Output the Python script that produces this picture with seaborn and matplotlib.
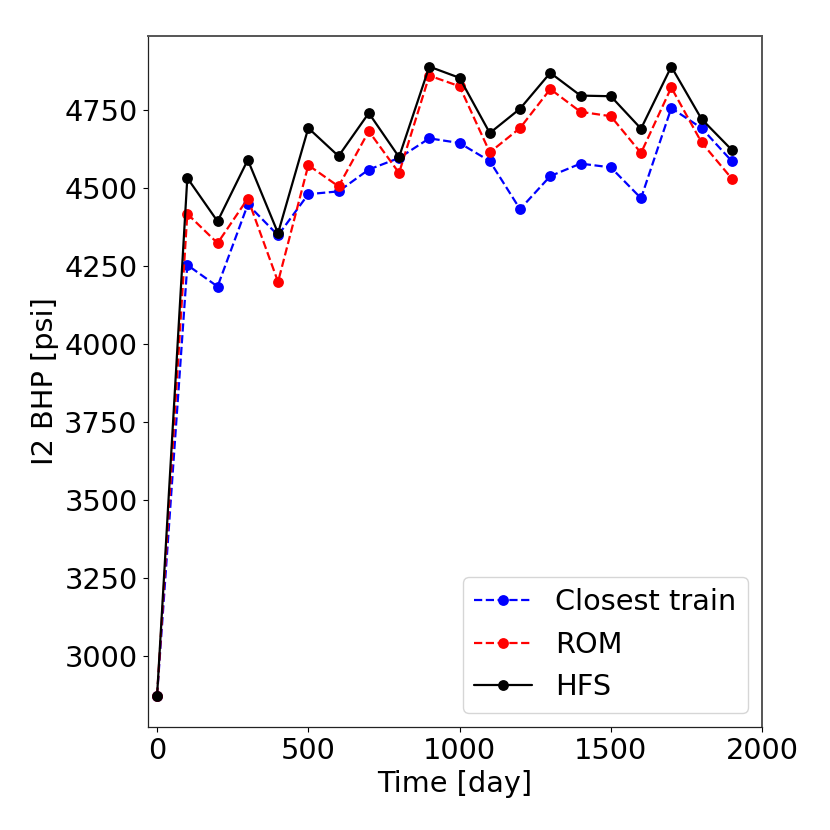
import matplotlib
matplotlib.use('Agg')
import matplotlib.pyplot as plt
import pandas as pd
import seaborn as sns

# --- Data ---
TIME = [0, 100, 200, 300, 400, 500, 600, 700, 800, 900, 1000, 1100, 1200, 1300, 1400, 1500, 1600, 1700, 1800, 1900]
CLOSEST = [2872, 4253, 4184, 4447, 4348, 4480, 4489, 4559, 4596, 4659, 4644, 4586, 4432, 4538, 4578, 4566, 4467, 4756, 4692, 4586]
ROM = [2872, 4417, 4323, 4466, 4199, 4573, 4505, 4682, 4548, 4860, 4826, 4614, 4692, 4817, 4744, 4730, 4612, 4822, 4646, 4530]
HFS = [2872, 4532, 4393, 4590, 4355, 4692, 4602, 4740, 4599, 4889, 4853, 4676, 4754, 4869, 4796, 4794, 4690, 4889, 4721, 4622]

XTICKS = [0, 500, 1000, 1500, 2000]
YTICKS = [3000, 3250, 3500, 3750, 4000, 4250, 4500, 4750]

FONT = 20.7

sns.set_theme(style='ticks', rc={'font.family': 'DejaVu Sans', 'text.color': 'black'})

df = pd.DataFrame({'Time': TIME, 'Closest train': CLOSEST, 'ROM': ROM, 'HFS': HFS})
long_df = df.melt(id_vars='Time', var_name='Series', value_name='BHP')

fig = plt.figure(figsize=(8.3, 8.3), dpi=100)
ax = fig.add_axes([0.1783, 0.1241, 0.7398, 0.8325])

palette = {'Closest train': 'blue', 'ROM': 'red', 'HFS': 'black'}
dashes = {'Closest train': (3.7, 1.6), 'ROM': (3.7, 1.6), 'HFS': ''}
sns.lineplot(
    data=long_df, x='Time', y='BHP', hue='Series', style='Series',
    palette=palette, dashes=dashes, markers={k: 'o' for k in palette},
    markersize=7.8, markeredgewidth=0, linewidth=1.6, errorbar=None, sort=False, ax=ax,
)

ax.set_xlim(-30, 2000)
ax.set_ylim(2772, 4987)
ax.set_xticks(XTICKS)
ax.set_yticks(YTICKS)
ax.tick_params(labelsize=FONT, length=3.5, width=0.8, color='black', labelcolor='black', pad=4)
ax.set_xlabel('Time [day]', fontsize=FONT, color='black', labelpad=3)
ax.set_ylabel('I2 BHP [psi]', fontsize=FONT, color='black', labelpad=4)

# top/right frame comes out heavier and greyer than left/bottom in the reference
for side in ['left', 'bottom']:
    ax.spines[side].set_linewidth(0.9)
    ax.spines[side].set_color('#222222')
for side in ['top', 'right']:
    ax.spines[side].set_linewidth(1.4)
    ax.spines[side].set_color('#555555')

ax.legend(loc='lower right', fontsize=FONT, frameon=True, fancybox=True, framealpha=0.8,
          edgecolor='0.8', title=None)

fig.savefig('out.png', dpi=100)
plt.close(fig)
